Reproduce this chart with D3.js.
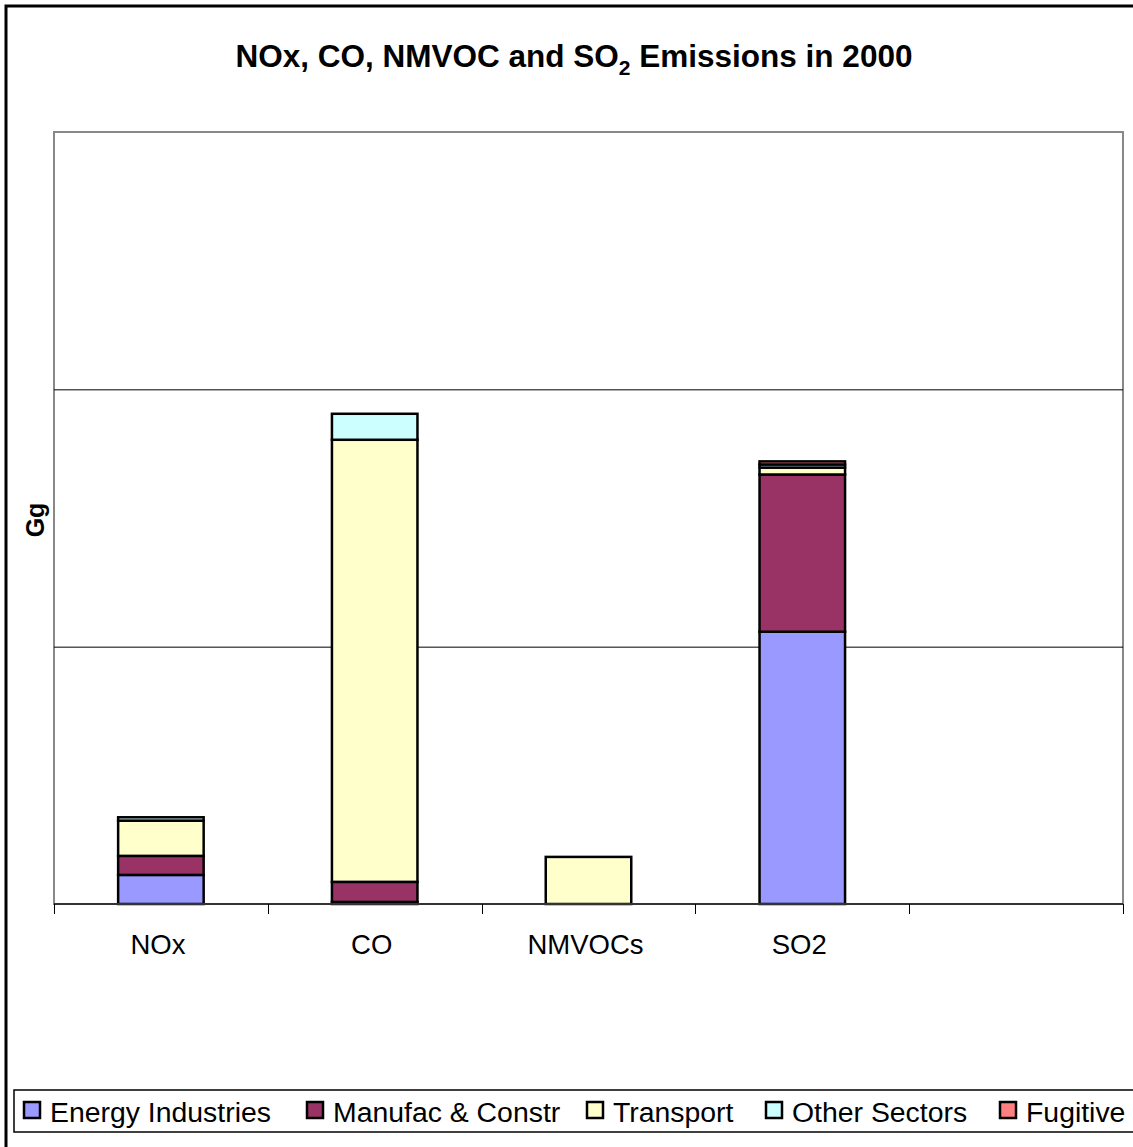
<!DOCTYPE html>
<html>
<head>
<meta charset="utf-8">
<script src="https://cdn.jsdelivr.net/npm/d3@7"></script>
<style>
  body { margin: 0; background: #fff; }
  svg { display: block; font-family: "Liberation Sans", Arial, sans-serif; }
</style>
</head>
<body>
<svg id="chart" width="1133" height="1147"></svg>
<script>
// ---- data ----
const categories = ["NOx", "CO", "NMVOCs", "SO2", ""];
const seriesNames = ["Energy Industries", "Manufac & Constr", "Transport", "Other Sectors", "Fugitive"];
const seriesColors = ["#9999FF", "#993366", "#FFFFCC", "#CCFFFF", "#FF8080"];
const energyIndustries = [11.3, 0.8, 0, 105.8, 0];
const manufacConstr   = [7.4, 7.8, 0, 61.1, 0];
const transport       = [13.7, 171.8, 18.3, 2.7, 0];
const otherSectors    = [1.3, 10.1, 0, 1.2, 0];
const fugitive        = [0, 0, 0, 1.2, 0];
const yMax = 300;
const gridValues = [100, 200, 300];

// ---- layout ----
const svg = d3.select("#chart");
const plot = { left: 54, right: 1123, top: 132, bottom: 904 };

// outer frame
svg.append("rect").attr("x", 6).attr("y", 6).attr("width", 1200).attr("height", 1200)
  .attr("fill", "#fff").attr("stroke", "#000").attr("stroke-width", 3);

// title
const title = svg.append("text").attr("x", 574).attr("y", 67).attr("text-anchor", "middle")
  .attr("font-size", 31.5).attr("font-weight", "bold").attr("fill", "#000");
title.append("tspan").text("NOx, CO, NMVOC and SO");
title.append("tspan").attr("font-size", 21).attr("dy", 8).text("2");
title.append("tspan").attr("dy", -8).text(" Emissions in 2000");

const x = d3.scaleBand().domain(d3.range(categories.length))
  .range([plot.left, plot.right]).paddingInner(0.6).paddingOuter(0.3);
const y = d3.scaleLinear().domain([0, yMax]).range([plot.bottom, plot.top]);

// plot area border (gray)
svg.append("rect").attr("x", plot.left).attr("y", plot.top)
  .attr("width", plot.right - plot.left).attr("height", plot.bottom - plot.top)
  .attr("fill", "#fff").attr("stroke", "#888").attr("stroke-width", 2);

// gridlines
svg.append("g").selectAll("line").data(gridValues.filter(v => v < yMax)).join("line")
  .attr("x1", plot.left).attr("x2", plot.right)
  .attr("y1", d => y(d) + 0.5).attr("y2", d => y(d) + 0.5)
  .attr("stroke", "#000").attr("stroke-width", 1);

// stacked bars
const rows = categories.map((c, i) => ({
  i,
  s0: energyIndustries[i], s1: manufacConstr[i], s2: transport[i], s3: otherSectors[i], s4: fugitive[i]
}));
const stack = d3.stack().keys(["s0", "s1", "s2", "s3", "s4"]);
const layers = stack(rows);
svg.append("g").selectAll("g").data(layers).join("g")
  .attr("fill", (d, k) => seriesColors[k])
  .selectAll("rect").data(d => d.filter(p => p[1] - p[0] > 0)).join("rect")
  .attr("x", d => x(d.data.i))
  .attr("width", x.bandwidth())
  .attr("y", d => y(d[1]))
  .attr("height", d => y(d[0]) - y(d[1]))
  .attr("stroke", "#000").attr("stroke-width", 2.5);

// x axis
const step = x.step();
const boundaries = d3.range(categories.length + 1).map(k => plot.left + k * step);
svg.append("line").attr("x1", plot.left).attr("x2", plot.right)
  .attr("y1", plot.bottom).attr("y2", plot.bottom)
  .attr("stroke", "#333").attr("stroke-width", 2);
svg.append("g").selectAll("line").data(boundaries).join("line")
  .attr("x1", d => Math.round(d) + 0.5).attr("x2", d => Math.round(d) + 0.5)
  .attr("y1", plot.bottom).attr("y2", plot.bottom + 10)
  .attr("stroke", "#000").attr("stroke-width", 1);
svg.append("g").selectAll("text").data(categories).join("text")
  .attr("x", (d, i) => x(i) + x.bandwidth() / 2 - 3)
  .attr("y", 954).attr("text-anchor", "middle")
  .attr("font-size", 27.5).attr("fill", "#000").text(d => d);

// y axis title
svg.append("text").attr("transform", "translate(44,520) rotate(-90)")
  .attr("text-anchor", "middle").attr("font-size", 25).attr("font-weight", "bold")
  .text("Gg");

// legend
svg.append("rect").attr("x", 14).attr("y", 1090).attr("width", 1200).attr("height", 42)
  .attr("fill", "#fff").attr("stroke", "#000").attr("stroke-width", 1.5);
const legendX = [23, 306, 586, 765, 999];
const lg = svg.append("g").selectAll("g").data(seriesNames).join("g")
  .attr("transform", (d, k) => `translate(${legendX[k]},1102)`);
lg.append("rect").attr("x", 1).attr("y", 0).attr("width", 16).attr("height", 16)
  .attr("fill", (d, k) => seriesColors[k]).attr("stroke", "#000").attr("stroke-width", 2.5);
lg.append("text").attr("x", 27).attr("y", 20).attr("font-size", 28.4).attr("fill", "#000")
  .text(d => d);
</script>
</body>
</html>
